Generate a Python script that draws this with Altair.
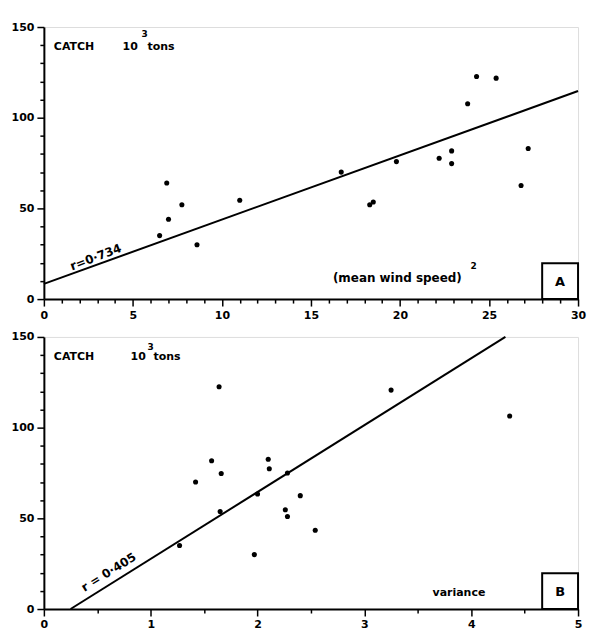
import altair as alt
import pandas as pd

# ---- Panel A data: catch vs (mean wind speed)^2 ----
a_x = [6.5, 6.9, 7.0, 7.75, 8.6, 11.0, 16.7, 18.3, 18.5, 19.8, 22.2, 22.9, 22.9, 23.8, 24.3, 25.4, 26.8, 27.2]
a_y = [35, 64, 44, 52, 30, 54.5, 70, 52, 53.5, 75.8, 77.6, 81.7, 74.7, 107.7, 122.7, 121.8, 62.6, 83]
a_line_x = [0, 30]
a_line_y = [8.4, 114.7]

# ---- Panel B data: catch vs variance ----
b_x = [1.27, 1.42, 1.57, 1.64, 1.66, 1.65, 1.97, 2.0, 2.10, 2.11, 2.28, 2.26, 2.28, 2.40, 2.54, 3.25, 4.36]
b_y = [35, 70, 81.7, 122.5, 74.7, 53.8, 30, 63.4, 82.6, 77.3, 75, 54.7, 51, 62.5, 43.4, 120.7, 106.4]
b_line_x = [0.25, 4.32]
b_line_y = [0, 150]

# ---- axis tick values ----
a_x_ticks = list(range(0, 31))
b_x_ticks = [i / 2 for i in range(0, 11)]
y_ticks = list(range(0, 151, 10))

# ---- texts ----
catch_label = "CATCH"
ten_label = "10"
exp3_label = "3"
tons_label = "tons"
a_xlabel = "(mean wind speed)"
a_xlabel_exp = "2"
b_xlabel = "variance"
a_r = "r=0·734"
b_r = "r = 0·405"
a_tag = "A"
b_tag = "B"

FONT = "DejaVu Sans"
W, H = 536, 273


def axis(values, major_test, orient):
    return alt.Axis(
        values=values,
        labelExpr=f"({major_test}) ? format(datum.value, 'd') : ''",
        tickSize={"condition": {"test": major_test, "value": 7}, "value": 4},
        title=None,
        grid=False,
        domainColor="black",
        domainWidth=2,
        tickColor="black",
        tickWidth=1.5,
        labelFont=FONT,
        labelFontWeight="bold",
        labelFontSize=11,
        labelColor="black",
        labelPadding=3,
        labelFlush=False,
        labelOverlap=False,
        minExtent=30 if orient == "y" else 20,
        maxExtent=30 if orient == "y" else 20,
    )


def text_layer(txt, x, y, size=10, angle=0, align="left"):
    return alt.Chart(pd.DataFrame({"t": [txt]})).mark_text(
        font=FONT, fontWeight="bold", fontSize=size, color="black",
        align=align, baseline="middle", angle=angle
    ).encode(x=alt.value(x), y=alt.value(y), text="t:N")


def panel(px, py, lx, ly, xdom, xticks, xmajor, r_txt, r_pos, r_angle,
          xlabel_layers, tag, header_pos):
    xs = alt.Scale(domain=xdom, nice=False, zero=False)
    ys = alt.Scale(domain=[0, 150], nice=False)
    xa = axis(xticks, xmajor, "x")
    ya = axis(y_ticks, "datum.value % 50 === 0", "y")
    pts = alt.Chart(pd.DataFrame({"x": px, "y": py})).mark_circle(
        size=26, color="black", opacity=1
    ).encode(
        x=alt.X("x:Q", scale=xs, axis=xa),
        y=alt.Y("y:Q", scale=ys, axis=ya),
    )
    line = alt.Chart(pd.DataFrame({"x": lx, "y": ly})).mark_line(
        color="black", strokeWidth=2
    ).encode(x=alt.X("x:Q", scale=xs, axis=xa), y=alt.Y("y:Q", scale=ys, axis=ya))
    box = alt.Chart(pd.DataFrame({"k": [0]})).mark_rect(
        fill="white", stroke="black", strokeWidth=2
    ).encode(x=alt.value(W - 36), x2=alt.value(W), y=alt.value(H - 36), y2=alt.value(H))
    tag_t = text_layer(tag, W - 18, H - 17, size=13, align="center")
    hx, hy, ex, ey, tx = header_pos
    header = [
        text_layer(catch_label, 10, hy, size=11),
        text_layer(ten_label, hx, hy, size=11),
        text_layer(exp3_label, ex, ey, size=9),
        text_layer(tons_label, tx, hy, size=11),
    ]
    rlab = text_layer(r_txt, r_pos[0], r_pos[1], size=12, angle=r_angle, align="center")
    return alt.layer(line, pts, box, tag_t, rlab, *header, *xlabel_layers).properties(
        width=W, height=H
    )


panel_a = panel(
    a_x, a_y, a_line_x, a_line_y, [0, 30], a_x_ticks, "datum.value % 5 === 0",
    a_r, (52, 231), 339,
    [text_layer(a_xlabel, 290, 252, size=12), text_layer(a_xlabel_exp, 428, 240, size=9)],
    a_tag, (79, 20, 98, 7, 104),
)
panel_b = panel(
    b_x, b_y, b_line_x, b_line_y, [0, 5], b_x_ticks, "datum.value % 1 === 0",
    b_r, (65, 236), 328,
    [text_layer(b_xlabel, 390, 257, size=11)],
    b_tag, (87, 20, 104, 10, 110),
)

chart = alt.vconcat(panel_a, panel_b, spacing=9).properties(
    padding={"left": 2, "top": 11, "right": 5, "bottom": 5}
).configure_view(stroke="black", strokeWidth=2).configure(background="white")

chart.save("out.html", embed_options={"renderer": "svg", "actions": False})
